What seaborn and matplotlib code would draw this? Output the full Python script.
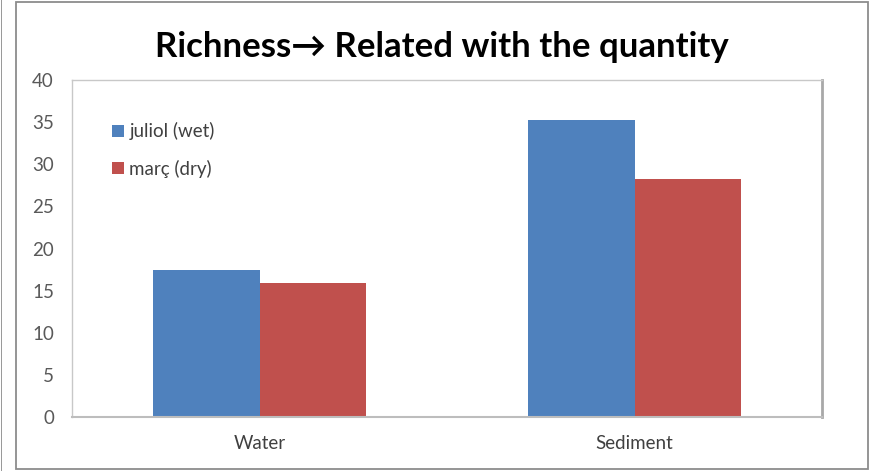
import matplotlib
matplotlib.use("Agg")
import matplotlib.pyplot as plt
from matplotlib.patches import Rectangle
import seaborn as sns
import pandas as pd

# Species richness per compartment and sampling campaign
categories = ["Water", "Sediment"]
series_names = ["juliol (wet)", "març (dry)"]
juliol_wet = [17.4, 35.2]
marc_dry = [15.9, 28.3]
y_ticks = [0, 5, 10, 15, 20, 25, 30, 35, 40]

df = pd.DataFrame({
    "compartment": categories * 2,
    "campaign": [series_names[0]] * len(categories) + [series_names[1]] * len(categories),
    "richness": juliol_wet + marc_dry,
})

sns.set_theme(style="white")
plt.rcParams["font.family"] = ["Lato", "DejaVu Sans"]

W, H = 872, 471
fig = plt.figure(figsize=(W / 100, H / 100), dpi=100)
fig.patch.set_facecolor("white")

# chart area frame and outer edge line
fig.add_artist(Rectangle((16 / W, 2 / H), (868 - 16) / W, (469 - 2) / H,
                         transform=fig.transFigure, fill=False,
                         edgecolor="#8c8c8c", lw=1.3))
fig.add_artist(Rectangle((0.5 / W, 0), 1.5 / W, 1, transform=fig.transFigure,
                         facecolor="#9a9a9a", edgecolor="none"))

ax = fig.add_axes([72 / W, (H - 417) / H, (822 - 72) / W, (417 - 80) / H])

palette = {series_names[0]: "#4F81BD", series_names[1]: "#C0504D"}
sns.barplot(data=df, x="compartment", y="richness", hue="campaign",
            order=categories, hue_order=series_names, palette=palette,
            width=0.57, saturation=1, ax=ax, linewidth=0, legend=True)

ax.set_xlim(-0.5, 1.5)
ax.set_ylim(0, 40)
ax.set_yticks(y_ticks)
ax.set_xlabel("")
ax.set_ylabel("")
ax.tick_params(axis="y", length=0, pad=13, labelsize=13.5, labelcolor="#595959")
ax.tick_params(axis="x", length=0, pad=13, labelsize=13.5, labelcolor="#404040")

for side in ["left", "top", "bottom"]:
    ax.spines[side].set_color("#c8c8c8")
    ax.spines[side].set_linewidth(1.0)
ax.spines["right"].set_color("#a8a8a8")
ax.spines["right"].set_linewidth(2.0)
ax.spines["bottom"].set_color("#bdbdbd")
ax.spines["bottom"].set_linewidth(1.5)

handles, labels = ax.get_legend_handles_labels()
leg = ax.legend(handles, labels, loc="upper left",
                bbox_to_anchor=(0.031, 0.925), frameon=False,
                handlelength=0.62, handleheight=0.62, handletextpad=0.3,
                labelspacing=1.05, fontsize=13.5)
for t in leg.get_texts():
    t.set_color("#404040")

fig.text(442 / W, 1 - 47 / H, "Richness\u2192 Related with the quantity",
         ha="center", va="center", fontsize=25, fontweight="bold",
         color="#000000", family=["Lato", "DejaVu Sans"])

fig.savefig("out.png", dpi=100, facecolor="white")
